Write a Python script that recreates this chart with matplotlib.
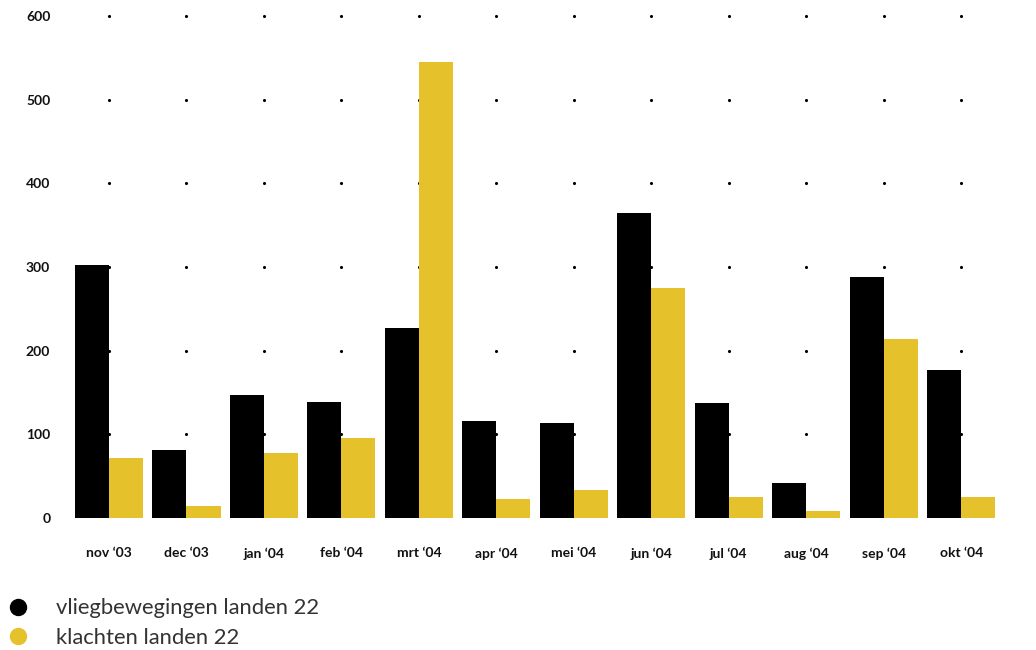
import numpy as np
import matplotlib.pyplot as plt
from matplotlib.lines import Line2D

months = ["nov \u201803", "dec \u201803", "jan \u201804", "feb \u201804", "mrt \u201804", "apr \u201804",
          "mei \u201804", "jun \u201804", "jul \u201804", "aug \u201804", "sep \u201804", "okt \u201804"]
vliegbewegingen = [302, 81, 147, 139, 227, 116, 114, 365, 137, 42, 288, 177]
klachten = [72, 14, 78, 96, 545, 23, 33, 275, 25, 8, 214, 25]
yticks = [0, 100, 200, 300, 400, 500, 600]

black = "#000000"
yellow = "#e5c22c"

fig = plt.figure(figsize=(10.36, 6.5), dpi=100)
ax = fig.add_axes([60 / 1036, (650 - 518) / 650, 950 / 1036, 502 / 650])

x = np.arange(len(months))
w = 0.44

# dot grid behind the bars
gx, gy = np.meshgrid(x, yticks[1:])
ax.scatter(gx.ravel(), gy.ravel(), s=5, color=black, zorder=1, clip_on=False, linewidths=0)

ax.bar(x - w / 2, vliegbewegingen, w, color=black, zorder=2)
ax.bar(x + w / 2, klachten, w, color=yellow, zorder=2)

ax.set_xlim(-0.632, 11.63)
ax.set_ylim(0, 600)
ax.set_yticks(yticks)
ax.set_yticklabels([str(t) for t in yticks], fontsize=10, fontweight="bold", family="Lato", color="#111111")
ax.set_xticks(x)
ax.set_xticklabels(months, fontsize=10, fontweight="bold", family="Lato", color="#111111")
ax.tick_params(axis="y", length=0, pad=7)
ax.tick_params(axis="x", length=0, pad=21)
for s in ax.spines.values():
    s.set_visible(False)

handles = [
    Line2D([], [], marker="o", linestyle="", markersize=11.5, color=black),
    Line2D([], [], marker="o", linestyle="", markersize=11.5, color=yellow),
]
fig.legend(handles, ["vliegbewegingen landen 22", "klachten landen 22"],
           loc="center left", bbox_to_anchor=(0.0, 0.0415), frameon=False,
           prop={"family": "Lato", "weight": "normal", "size": 15.8},
           labelcolor="#333333",
           handletextpad=1.17, labelspacing=0.42, borderaxespad=0, borderpad=0.2,
           handlelength=1.2)

fig.savefig("out.png", dpi=100)
